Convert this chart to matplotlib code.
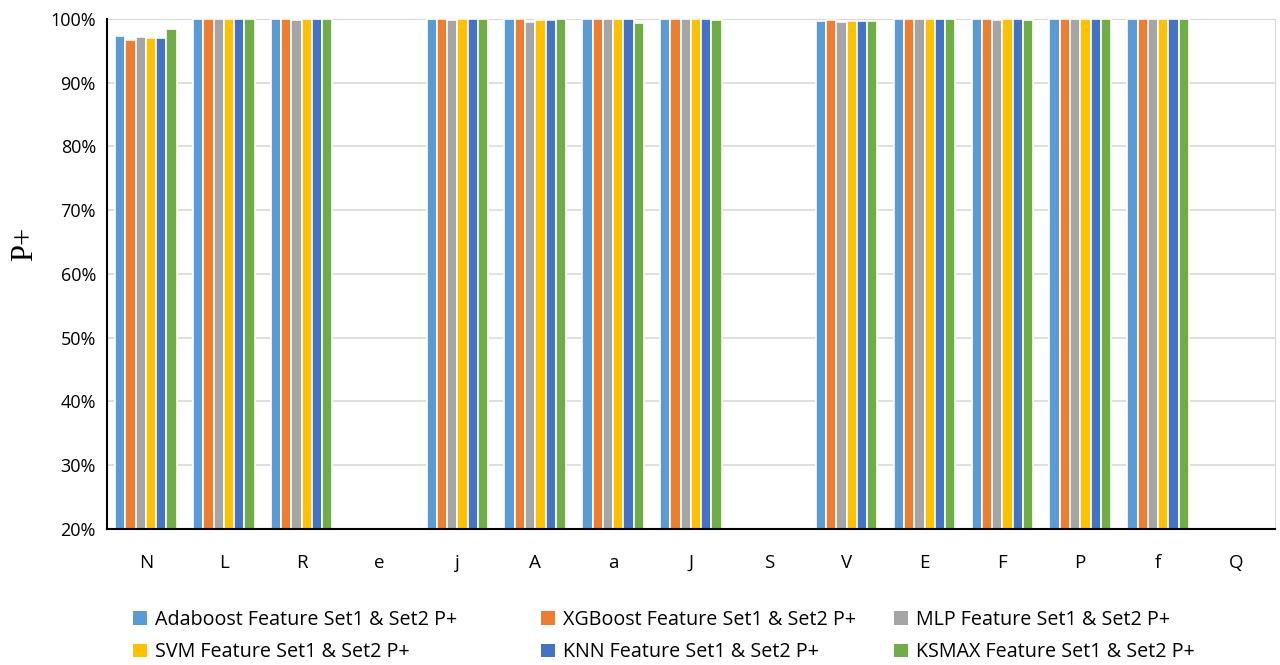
import numpy as np
import matplotlib.pyplot as plt
from matplotlib.patches import Patch

# Clases de latido y valores P+ (%) de cada modelo
clases = ['N', 'L', 'R', 'e', 'j', 'A', 'a', 'J', 'S', 'V', 'E', 'F', 'P', 'f', 'Q']

adaboost = [97.3, 100, 100, 0, 100, 100, 100, 100, 0, 99.7, 100, 100, 100, 100, 0]
xgboost  = [96.7, 100, 100, 0, 100, 100, 100, 100, 0, 99.8, 100, 100, 100, 100, 0]
mlp      = [97.1, 100, 99.9, 0, 99.9, 99.6, 100, 100, 0, 99.6, 100, 99.9, 100, 100, 0]
svm      = [97.0, 100, 100, 0, 100, 99.8, 100, 100, 0, 99.7, 100, 100, 100, 100, 0]
knn      = [97.0, 100, 100, 0, 100, 99.9, 100, 100, 0, 99.7, 100, 100, 100, 100, 0]
ksmax    = [98.5, 100, 100, 0, 100, 100, 99.4, 99.9, 0, 99.7, 100, 99.9, 100, 100, 0]

series = [adaboost, xgboost, mlp, svm, knn, ksmax]
nombres = ['Adaboost Feature Set1 & Set2 P+', 'XGBoost Feature Set1 & Set2 P+',
           'MLP Feature Set1 & Set2 P+', 'SVM Feature Set1 & Set2 P+',
           'KNN Feature Set1 & Set2 P+', 'KSMAX Feature Set1 & Set2 P+']
colores = ['#5b9bd5', '#ed7d31', '#a5a5a5', '#ffc000', '#4472c4', '#70ad47']

plt.rcParams['font.family'] = ['Open Sans', 'DejaVu Sans']

fig = plt.figure(figsize=(12.8, 6.65), dpi=100)
ax = fig.add_axes([0.0836, 0.2045, 0.9124, 0.767])

x = np.arange(len(clases))
ancho = 0.132
for i, (vals, col) in enumerate(zip(series, colores)):
    ax.bar(x + (i - 2.5) * ancho, vals, ancho, color=col, edgecolor='white', linewidth=1.2, zorder=3)

ax.set_xlim(-0.5, len(clases) - 0.5)
ax.set_ylim(20, 100)
ax.set_yticks(np.arange(20, 101, 10))
ax.set_yticklabels([f'{v}%' for v in range(20, 101, 10)], fontsize=13)
ax.set_xticks(x)
ax.set_xticklabels(clases, fontsize=13.5)
ax.tick_params(axis='both', length=0)
ax.tick_params(axis='x', pad=18)
ax.tick_params(axis='y', pad=8)

ax.grid(axis='y', color='#d9d9d9', linewidth=1.2, zorder=0)
for lado in ['left', 'bottom']:
    ax.spines[lado].set_color('black')
    ax.spines[lado].set_linewidth(1.5)
    ax.spines[lado].set_zorder(5)
ax.spines['top'].set_color('#d9d9d9')
ax.spines['right'].set_color('#d9d9d9')

ax.set_ylabel('P+', fontsize=22, family='Liberation Serif')
ax.yaxis.set_label_coords(-0.058, 0.56)

# Leyenda: tres columnas de dos filas, cada una colocada en su sitio
columnas_x = [127, 535, 888]
for c, xc in enumerate(columnas_x):
    idx = [c, c + 3]
    handles = [Patch(facecolor=colores[k], edgecolor='none') for k in idx]
    leg = fig.legend(handles, [nombres[k] for k in idx], loc='upper left',
                     bbox_to_anchor=(xc / 1280 - 0.006, 1 - 596 / 665), ncol=1,
                     frameon=False, fontsize=14.2, handlelength=0.7, handleheight=0.7,
                     handletextpad=0.4, labelspacing=0.64, borderpad=0.2)

fig.savefig('out.png', dpi=100)
